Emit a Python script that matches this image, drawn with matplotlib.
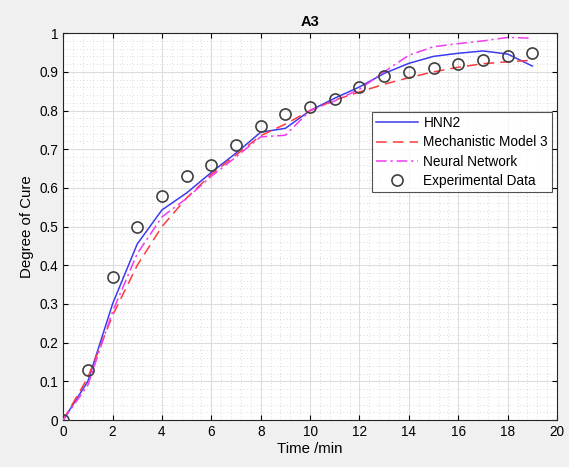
import matplotlib.pyplot as plt
from matplotlib.ticker import MultipleLocator

plt.rcParams['font.family'] = ['Liberation Sans', 'DejaVu Sans']

t = list(range(20))
exp_data = [0, 0.13, 0.37, 0.50, 0.58, 0.63, 0.66, 0.71, 0.76, 0.79,
            0.81, 0.83, 0.86, 0.89, 0.90, 0.91, 0.92, 0.93, 0.94, 0.95]
hnn2 = [0, 0.10, 0.30, 0.455, 0.543, 0.587, 0.64, 0.69, 0.744, 0.754,
        0.80, 0.832, 0.861, 0.896, 0.922, 0.94, 0.948, 0.954, 0.946, 0.915]
mech = [0, 0.11, 0.27, 0.40, 0.50, 0.574, 0.635, 0.685, 0.735, 0.765,
        0.80, 0.827, 0.848, 0.868, 0.885, 0.90, 0.912, 0.921, 0.926, 0.93]
nn = [0, 0.09, 0.28, 0.43, 0.525, 0.573, 0.63, 0.68, 0.732, 0.736,
      0.80, 0.825, 0.855, 0.90, 0.943, 0.965, 0.973, 0.98, 0.989, 0.987]
yticklabels = ['0', '0.1', '0.2', '0.3', '0.4', '0.5', '0.6', '0.7', '0.8', '0.9', '1']

fig = plt.figure(figsize=(5.69, 4.67), dpi=100, facecolor='#f0f0f0')
ax = fig.add_axes([0.111, 0.1006, 0.868, 0.8284])

ax.plot(t, hnn2, color='#3b3bf0', lw=1.1, label='HNN2', zorder=3)
ax.plot(t, mech, color='#ff3b3b', lw=1.1, ls=(0, (7, 4)), label='Mechanistic Model 3', zorder=3)
ax.plot(t, nn, color='#f03cf0', lw=1.1, ls=(0, (7, 2.5, 1.5, 2.5)), label='Neural Network', zorder=3)
ax.plot(t, exp_data, 'o', mfc='none', mec='#404040', ms=8, mew=1.2,
        label='Experimental Data', zorder=4)

ax.set_xlim(0, 20)
ax.set_ylim(0, 1)
ax.xaxis.set_major_locator(MultipleLocator(2))
ax.xaxis.set_minor_locator(MultipleLocator(0.4))
ax.yaxis.set_minor_locator(MultipleLocator(0.02))
ax.set_yticks([i / 10 for i in range(11)])
ax.set_yticklabels(yticklabels)
ax.tick_params(which='both', direction='in', top=True, right=True, labelsize=9.8)
ax.tick_params(which='minor', length=0)
ax.grid(which='major', color='#dcdcdc', lw=0.8)
ax.grid(which='minor', color='#cfcfcf', lw=0.6, ls=(0, (1, 3)))
ax.set_axisbelow(True)
for s in ax.spines.values():
    s.set_color('#262626')
    s.set_linewidth(0.8)

ax.set_title('A3', fontsize=10.5, fontweight='bold', pad=5)
ax.set_xlabel('Time /min', fontsize=10.8, labelpad=2)
ax.set_ylabel('Degree of Cure', fontsize=10.8, labelpad=4)

leg = ax.legend(loc='upper right', bbox_to_anchor=(0.99, 0.796), borderaxespad=0,
                fontsize=9.8, frameon=True, fancybox=False, edgecolor='#262626',
                handlelength=3.1, borderpad=0.3, labelspacing=0.38, handletextpad=0.4)
leg.get_frame().set_linewidth(0.8)

fig.savefig('out.png', dpi=100, facecolor=fig.get_facecolor())
